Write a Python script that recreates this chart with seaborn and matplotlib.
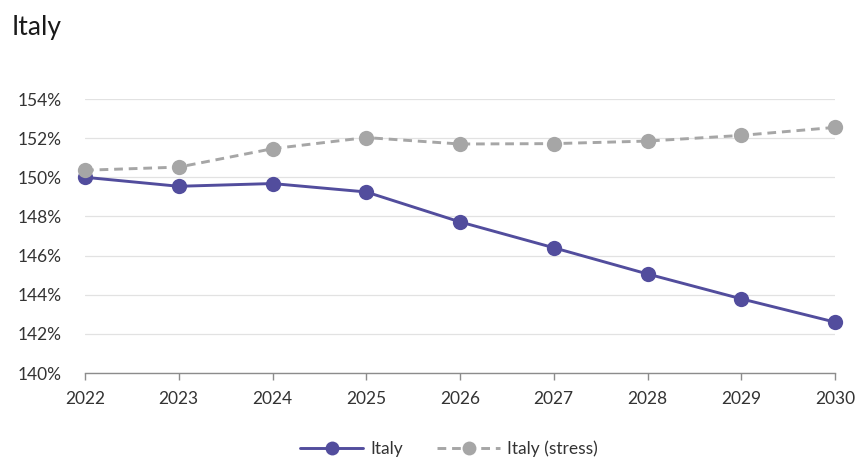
import matplotlib
matplotlib.use("Agg")
import matplotlib.pyplot as plt
import pandas as pd
import seaborn as sns
from matplotlib.lines import Line2D
from matplotlib.ticker import FuncFormatter

years = [2022, 2023, 2024, 2025, 2026, 2027, 2028, 2029, 2030]
italy = [150.0, 149.54, 149.68, 149.25, 147.72, 146.40, 145.06, 143.79, 142.60]
italy_stress = [150.36, 150.52, 151.46, 152.03, 151.70, 151.72, 151.85, 152.14, 152.55]
series_names = ["Italy", "Italy (stress)"]
y_ticks = [140, 142, 144, 146, 148, 150, 152, 154]

df = pd.DataFrame({
    "year": years * 2,
    "value": italy + italy_stress,
    "series": [series_names[0]] * len(years) + [series_names[1]] * len(years),
})

sns.set_theme(style="white")
plt.rcParams["font.family"] = ["Lato", "DejaVu Sans"]

colors = {"Italy": "#524d9d", "Italy (stress)": "#a6a6a6"}
dashes = {"Italy": "", "Italy (stress)": (3, 2)}

fig = plt.figure(figsize=(8.57, 4.57), dpi=100)
ax = fig.add_axes([85 / 857, 1 - 373 / 457, 750 / 857, 274 / 457])

sns.lineplot(data=df, x="year", y="value", hue="series", style="series",
             palette=colors, dashes=dashes, markers={"Italy": "o", "Italy (stress)": "o"},
             markersize=11, markeredgewidth=0, linewidth=2.1, ax=ax, legend=False,
             clip_on=False, zorder=3)

ax.set_xlim(years[0], years[-1])
ax.set_ylim(140, 154)
ax.set_yticks(y_ticks)
ax.set_xticks(years)
ax.yaxis.set_major_formatter(FuncFormatter(lambda v, _: f"{v:.0f}%"))
ax.set_xlabel("")
ax.set_ylabel("")

ax.grid(axis="y", color="#e2e2e2", linewidth=0.9)
ax.grid(axis="x", visible=False)
for side in ["top", "right", "left"]:
    ax.spines[side].set_visible(False)
ax.spines["bottom"].set_color("#8c8c8c")
ax.spines["bottom"].set_linewidth(1)
ax.tick_params(axis="x", which="major", bottom=True, length=5, width=1,
               color="#8c8c8c", labelsize=12.5, labelcolor="#333333", pad=8)
ax.tick_params(axis="y", length=0, labelsize=12.5, labelcolor="#333333", pad=17)

fig.text(12 / 857, 1 - 27 / 457, "Italy", fontsize=19, color="#1a1a1a",
         va="center", ha="left")

handles = [
    Line2D([], [], color=colors["Italy"], linewidth=2.1, marker="o", markersize=10,
           markeredgewidth=0),
    Line2D([], [], color=colors["Italy (stress)"], linewidth=2.1, linestyle=(0, (3, 2)),
           marker="o", markersize=10, markeredgewidth=0),
]
fig.legend(handles, series_names, loc="center", bbox_to_anchor=(449 / 857, 1 - 449 / 457),
           ncol=2, frameon=False, fontsize=12.5, handlelength=3.6, columnspacing=2.0,
           handletextpad=0.4, labelcolor="#333333")

fig.savefig("out.png", dpi=100)
